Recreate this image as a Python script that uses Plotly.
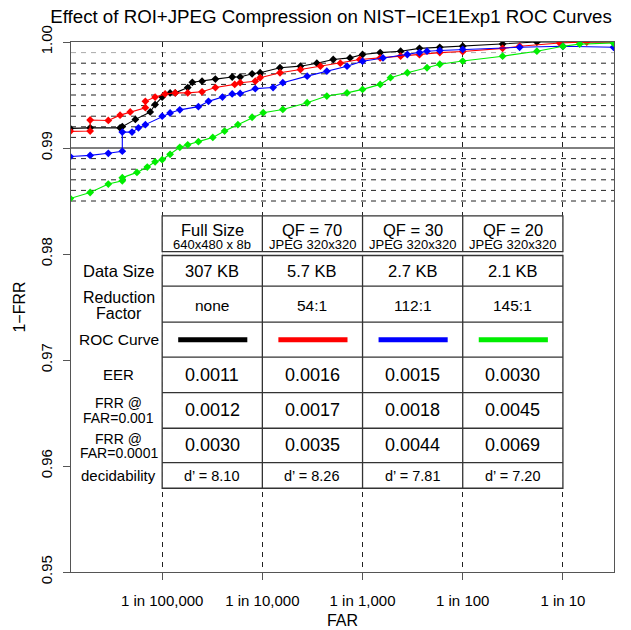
import math
import plotly.graph_objects as go

# ---------------- data ----------------
black_far = [1.21e-6, 1.91e-6, 3.8e-6, 4.0e-6, 5.4e-6, 7.6e-6, 8.5e-6, 1.0e-5, 1.2e-5, 1.35e-5,
             1.8e-5, 2.0e-5, 2.5e-5, 3.4e-5, 5.0e-5, 6.0e-5, 7.9e-5, 9.5e-5, 1.5e-4, 2.4e-4,
             3.5e-4, 5.1e-4, 7.5e-4, 1.0e-3, 1.5e-3, 2.4e-3, 3.7e-3, 5.9e-3, 1.0e-2, 2.5e-2,
             5.5e-2, 0.32]
black_tar = [0.99185, 0.99190, 0.99190, 0.99202, 0.9927, 0.9934, 0.9941, 0.9948, 0.9952, 0.9952,
             0.9957, 0.9962, 0.9963, 0.9965, 0.9967, 0.9967, 0.9970, 0.9971, 0.99757, 0.99772,
             0.9980, 0.99835, 0.9985, 0.99882, 0.9990, 0.99913, 0.9994, 0.9995, 0.9996, 0.9998,
             1.0, 1.0]

red_far = [1.21e-6, 1.91e-6, 1.91e-6, 2.9e-6, 3.8e-6, 4.8e-6, 6.8e-6, 6.8e-6, 8.5e-6, 1.07e-5,
           1.35e-5, 1.8e-5, 2.5e-5, 3.4e-5, 5.3e-5, 6.0e-5, 8.5e-5, 9.5e-5, 1.5e-4, 2.4e-4,
           3.8e-4, 6.0e-4, 9.4e-4, 1.5e-3, 2.4e-3, 3.7e-3, 5.9e-3, 1.0e-2, 2.5e-2, 3.7e-2,
           9.3e-2, 0.173, 0.32]
red_tar = [0.99157, 0.99160, 0.99264, 0.9926, 0.9931, 0.9934, 0.9938, 0.9944, 0.9948, 0.9951,
           0.9952, 0.9952, 0.9953, 0.9957, 0.9960, 0.99616, 0.9963, 0.99663, 0.9971, 0.9974,
           0.99772, 0.9980, 0.99835, 0.9985, 0.99866, 0.9988, 0.9990, 0.9991, 0.9994, 0.9996,
           0.9999, 1.0, 1.0]

blue_far = [1.21e-6, 1.91e-6, 2.9e-6, 4.0e-6, 4.0e-6, 5.0e-6, 5.8e-6, 6.8e-6, 1.0e-5, 1.2e-5,
            1.5e-5, 2.3e-5, 2.9e-5, 4.0e-5, 5.0e-5, 6.0e-5, 8.5e-5, 1.28e-4, 1.6e-4, 2.8e-4,
            4.4e-4, 7.0e-4, 1.0e-3, 1.6e-3, 2.8e-3, 3.7e-3, 4.4e-3, 5.9e-3, 1.0e-2, 3.7e-2,
            0.1, 0.32]
blue_tar = [0.98919, 0.9893, 0.9895, 0.9897, 0.9915, 0.9915, 0.9919, 0.9922, 0.9930, 0.9933,
            0.9936, 0.9939, 0.9944, 0.9948, 0.9951, 0.99515, 0.9956, 0.9957, 0.99616, 0.99678,
            0.99725, 0.99772, 0.99819, 0.9985, 0.99882, 0.9990, 0.99913, 0.9992, 0.9993, 0.9995,
            0.9996, 0.9995]

green_far = [1.21e-6, 1.91e-6, 2.9e-6, 4.0e-6, 4.0e-6, 5.6e-6, 7.1e-6, 8.5e-6, 1.0e-5, 1.2e-5,
             1.5e-5, 1.8e-5, 2.3e-5, 3.2e-5, 4.2e-5, 5.7e-5, 7.9e-5, 1.02e-4, 1.6e-4, 2.8e-4,
             4.4e-4, 7.0e-4, 1.0e-3, 1.5e-3, 1.9e-3, 2.8e-3, 4.4e-3, 5.9e-3, 1.0e-2, 2.5e-2,
             5.5e-2, 0.1, 0.147, 0.32]
green_tar = [0.98524, 0.9858, 0.9866, 0.9869, 0.9872, 0.9877, 0.9882, 0.9887, 0.9889, 0.9894,
             0.99006, 0.9903, 0.9906, 0.9910, 0.9916, 0.9922, 0.9929, 0.99333, 0.99364, 0.99427,
             0.9949, 0.9952, 0.99553, 0.9960, 0.99663, 0.9971, 0.99757, 0.9979, 0.9982, 0.99866,
             0.99913, 0.9996, 0.9998, 0.9999]

series_colors = ["#000000", "#ff0000", "#0000ff", "#00ee00"]

x_tick_vals = [1e-5, 1e-4, 1e-3, 1e-2, 1e-1]
x_tick_text = ["1 in 100,000", "1 in 10,000", "1 in 1,000", "1 in 100", "1 in 10"]
y_tick_vals = [0.95, 0.96, 0.97, 0.98, 0.99, 1.00]
y_tick_text = ["0.95", "0.96", "0.97", "0.98", "0.99", "1.00"]

# table content
header_main = ["Full Size", "QF = 70", "QF = 30", "QF = 20"]
header_sub = ["640x480 x 8b", "JPEG 320x320", "JPEG 320x320", "JPEG 320x320"]
data_size = ["307 KB", "5.7 KB", "2.7 KB", "2.1 KB"]
reduction = ["none", "54:1", "112:1", "145:1"]
eer = ["0.0011", "0.0016", "0.0015", "0.0030"]
frr_1e3 = ["0.0012", "0.0017", "0.0018", "0.0045"]
frr_1e4 = ["0.0030", "0.0035", "0.0044", "0.0069"]
decidability = ["d\u2019 = 8.10", "d\u2019 = 8.26", "d\u2019 = 7.81", "d\u2019 = 7.20"]
row_labels = ["Data Size", ["Reduction", "Factor"], "ROC Curve", "EER",
              ["FRR @", "FAR=0.001"], ["FRR @", "FAR=0.0001"], "decidability"]

# ---------------- figure ----------------
FONT = "Liberation Sans, Arial, Helvetica, sans-serif"
XRANGE = [-5.91, -0.49]
W, H = 623, 622  # page body has an 8px margin

fig = go.Figure()
for far, tar, col in zip([black_far, red_far, blue_far, green_far],
                         [black_tar, red_tar, blue_tar, green_tar], series_colors):
    fig.add_trace(go.Scatter(x=far, y=tar, mode="lines+markers",
                             line=dict(color=col, width=1.1),
                             marker=dict(symbol="diamond", size=6, color=col),
                             showlegend=False, hoverinfo="skip"))

shapes = []
# horizontal fine grid between 0.985 and 0.999
for k in range(985, 1000):
    v = k / 1000.0
    if k == 990:
        shapes.append(dict(type="line", xref="paper", x0=0, x1=1, yref="y", y0=v, y1=v,
                           line=dict(color="#000000", width=1), layer="between"))
    else:
        shapes.append(dict(type="line", xref="paper", x0=0, x1=1, yref="y", y0=v, y1=v,
                           line=dict(color="#aaaaaa" if k == 999 else "#222222", width=1,
                                     dash="5px,5px"), layer="between"))

# table geometry (y in data units, columns aligned to decades)
hdr_top, hdr_bot = 0.98360, 0.98023
body_edges = [0.97986, 0.97697, 0.97357, 0.97027, 0.96693, 0.96356, 0.96032, 0.95790]
col_edges = x_tick_vals
border = dict(color="#333333", width=1.3)

shapes.append(dict(type="rect", xref="x", yref="y", x0=col_edges[0], x1=col_edges[-1],
                   y0=body_edges[-1], y1=hdr_top, fillcolor="white",
                   line=dict(width=0), layer="above"))
shapes.append(dict(type="rect", xref="x", yref="y", x0=col_edges[0], x1=col_edges[-1],
                   y0=hdr_bot, y1=hdr_top, fillcolor="rgba(0,0,0,0)", line=border, layer="above"))
shapes.append(dict(type="rect", xref="x", yref="y", x0=col_edges[0], x1=col_edges[-1],
                   y0=body_edges[-1], y1=body_edges[0], fillcolor="rgba(0,0,0,0)", line=border,
                   layer="above"))
for c in col_edges[1:-1]:
    shapes.append(dict(type="line", xref="x", yref="y", x0=c, x1=c, y0=hdr_bot, y1=hdr_top,
                       line=border, layer="above"))
    shapes.append(dict(type="line", xref="x", yref="y", x0=c, x1=c, y0=body_edges[-1],
                       y1=body_edges[0], line=border, layer="above"))
for e in body_edges[1:-1]:
    shapes.append(dict(type="line", xref="x", yref="y", x0=col_edges[0], x1=col_edges[-1],
                       y0=e, y1=e, line=border, layer="above"))

# ROC curve sample lines
roc_row_y = (body_edges[2] + body_edges[3]) / 2
for i, col in enumerate(series_colors):
    lo = math.log10(col_edges[i])
    shapes.append(dict(type="line", xref="x", yref="y", x0=10 ** (lo + 0.16), x1=10 ** (lo + 0.85),
                       y0=roc_row_y, y1=roc_row_y, line=dict(color=col, width=5), layer="above"))

annotations = []


def txt(xlog, y, s, size):
    annotations.append(dict(x=xlog, y=y, xref="x", yref="y", text=s, showarrow=False,
                            font=dict(family=FONT, size=size, color="black"),
                            xanchor="center", yanchor="middle", borderpad=0))


col_centers = [math.log10(c) + 0.5 for c in col_edges[:-1]]
label_center = (XRANGE[0] + math.log10(col_edges[0])) / 2 + 0.02
row_centers = [(body_edges[i] + body_edges[i + 1]) / 2 for i in range(len(body_edges) - 1)]

for i, xc in enumerate(col_centers):
    txt(xc, 0.98228, header_main[i], 16.5)
    txt(xc, 0.98085, header_sub[i], 13)
    txt(xc, row_centers[0], data_size[i], 16.5)
    txt(xc, row_centers[1] - 0.00012, reduction[i], 15.5)
    txt(xc, row_centers[3], eer[i], 18)
    txt(xc, row_centers[4], frr_1e3[i], 18)
    txt(xc, row_centers[5], frr_1e4[i], 18)
    txt(xc, row_centers[6] - 0.0001, decidability[i], 14.5)

label_sizes = [16.5, 16, 15.5, 15, 14, 14, 15]
two_line_offsets = {1: (0.00060, -0.00088), 4: (0.00068, -0.00068), 5: (0.00061, -0.00075)}
for r, lab in enumerate(row_labels):
    if isinstance(lab, list):
        up, dn = two_line_offsets[r]
        txt(label_center, row_centers[r] + up, lab[0], label_sizes[r])
        txt(label_center, row_centers[r] + dn, lab[1], label_sizes[r])
    else:
        txt(label_center, row_centers[r], lab, label_sizes[r])

axis_common = dict(showline=True, linecolor="#555555", linewidth=1, mirror=True,
                   ticks="outside", ticklen=7, tickcolor="#555555", zeroline=False,
                   automargin=False,
                   tickfont=dict(family=FONT, size=15, color="black"))

fig.update_layout(
    width=W, height=H,
    margin=dict(l=63, r=17, t=34, b=58, autoexpand=False),
    paper_bgcolor="white", plot_bgcolor="white",
    font=dict(family=FONT, color="black"),
    title=dict(text="Effect of ROI+JPEG Compression on NIST\u2212ICE1Exp1 ROC Curves",
               x=323 / W, xref="container", xanchor="center",
               y=1 - 8.5 / H, yref="container", yanchor="middle",
               font=dict(family=FONT, size=18.7, color="black")),
    xaxis=dict(type="log", range=XRANGE, tickvals=x_tick_vals, ticktext=x_tick_text,
               showgrid=True, gridcolor="#222222", gridwidth=1, griddash="5px,5px",
               ticklabelstandoff=8,
               title=dict(text="FAR", font=dict(family=FONT, size=16), standoff=6),
               **axis_common),
    yaxis=dict(range=[0.95, 1.0], tickvals=y_tick_vals, ticktext=y_tick_text,
               tickangle=-90, showgrid=False, ticklabelstandoff=5,
               title=dict(text="1\u2212FRR", font=dict(family=FONT, size=16), standoff=8),
               **axis_common),
    shapes=shapes,
    annotations=annotations,
)

fig.write_html("out.html")
